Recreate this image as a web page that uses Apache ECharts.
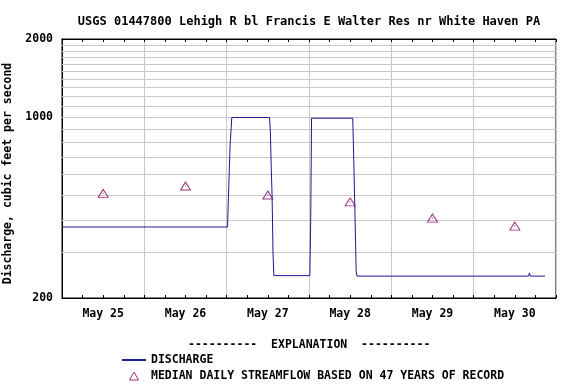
<!DOCTYPE html>
<html>
<head>
<meta charset="utf-8">
<script src="https://cdn.jsdelivr.net/npm/echarts@6/dist/echarts.min.js"></script>
<style>html,body{margin:0;padding:0;background:#fff}#c{width:576px;height:384px}</style>
</head>
<body>
<div id="c"></div>
<script>
// ---- data (hours after May 25 00:00) ----
const dayLabels = ['May 25', 'May 26', 'May 27', 'May 28', 'May 29', 'May 30'];
const dischargeHours = [0, 48.25, 48.5, 49.0, 49.5, 60.5, 60.75, 61.0, 61.25, 61.5, 61.75,
  72.25, 72.5, 72.75, 84.75, 85.0, 85.5, 85.75, 86.0, 136.0, 136.25, 136.5, 140.8];
const dischargeValues = [376, 376, 486, 779, 995, 995, 867, 635, 492, 301, 244,
  244, 400, 989, 989, 726, 366, 253, 243, 243, 250, 243, 243];
const medianHours = [12, 36, 60, 84, 108, 132];
const medianValues = [507, 541, 500, 470, 407, 379];
const yTickLabels = [200, 1000, 2000];
const yGridValues = [300, 400, 500, 600, 700, 800, 900, 1000, 1100, 1200, 1300, 1400, 1500, 1600, 1700, 1800, 1900];

const H = 3600 * 1000;
const t0 = Date.UTC(2020, 4, 25);
const toMs = h => t0 + h * H;
const FONT = 'DejaVu Sans Mono';
const LINE_COLOR = '#1a1a9c';
const MED_COLOR = '#800060';

const dischargeData = dischargeHours.map((h, i) => [toMs(h), dischargeValues[i]]);
const medianData = medianHours.map((h, i) => [toMs(h), medianValues[i]]);
const labelValues = medianHours.map(toMs);

const xCommon = {
  type: 'value', min: t0, max: toMs(144), interval: 24 * H,
  axisLine: { show: true, lineStyle: { color: '#000', width: 1 } },
  axisTick: { show: true, inside: true, length: 3, lineStyle: { color: '#000' } },
  minorTick: { show: true, splitNumber: 4, length: 3, lineStyle: { color: '#000' } }
};

const chart = echarts.init(document.getElementById('c'));
chart.setOption({
  animation: false,
  backgroundColor: '#fff',
  title: {
    text: 'USGS 01447800 Lehigh R bl Francis E Walter Res nr White Haven PA',
    left: 304, top: 11, textAlign: 'center',
    textStyle: { fontFamily: FONT, fontWeight: 'bold', fontSize: 12, color: '#000' }
  },
  grid: { left: 62, top: 39, width: 494, height: 259, show: true, borderColor: '#000', borderWidth: 1, containLabel: false, outerBoundsMode: 'none' },
  xAxis: [
    Object.assign({}, xCommon, {
      position: 'bottom',
      splitLine: { show: true, lineStyle: { color: '#c8c8c8', width: 1 } },
      axisLabel: {
        show: true, margin: 10, customValues: labelValues,
        fontFamily: FONT, fontWeight: 'bold', fontSize: 11.5, color: '#000',
        formatter: v => dayLabels[medianHours.indexOf(Math.round((v - t0) / H))] || ''
      }
    }),
    Object.assign({}, xCommon, {
      position: 'top',
      splitLine: { show: false },
      axisLabel: { show: false }
    })
  ],
  yAxis: {
    type: 'log', logBase: 10, min: 200, max: 2000,
    name: 'Discharge, cubic feet per second', nameLocation: 'middle', nameGap: 28,
    nameTextStyle: { fontFamily: FONT, fontWeight: 'bold', fontSize: 11.5, color: '#000', padding: [0, 10, 0, 0] },
    axisLine: { show: true, lineStyle: { color: '#000' } },
    axisTick: { show: false },
    splitLine: { show: false },
    axisLabel: {
      customValues: yTickLabels, margin: 9,
      fontFamily: FONT, fontWeight: 'bold', fontSize: 11.5, color: '#000',
      formatter: v => String(Math.round(v))
    }
  },
  legend: {
    orient: 'vertical', left: 121, top: 352, padding: 0, itemWidth: 24, itemHeight: 10, itemGap: 0,
    data: [
      { name: 'DISCHARGE', itemStyle: { opacity: 0 } },
      {
        name: 'MEDIAN DAILY STREAMFLOW BASED ON 47 YEARS OF RECORD',
        icon: 'path://M0,0M24,10M7.5,9L16.5,9L12,1Z',
        itemStyle: { color: 'rgba(255,255,255,0)', borderColor: MED_COLOR, borderWidth: 1 }
      }
    ],
    textStyle: { fontFamily: FONT, fontWeight: 'bold', fontSize: 11.5, color: '#000', lineHeight: 16 }
  },
  graphic: [{
    type: 'text', left: 310 - 122, top: 339,
    style: { text: '----------  EXPLANATION  ----------', fontFamily: FONT, fontWeight: 'bold', fontSize: 11.5, fill: '#000' }
  }],
  series: [
    {
      type: 'line', silent: true, z: 1, data: [],
      markLine: {
        z: 1, silent: true, symbol: 'none', label: { show: false },
        lineStyle: { color: '#c8c8c8', width: 1, type: 'solid' },
        data: yGridValues.map(v => ({ yAxis: v }))
      }
    },
    {
      name: 'DISCHARGE', type: 'line', z: 6, data: dischargeData,
      showSymbol: false, symbol: 'none',
      lineStyle: { color: LINE_COLOR, width: 1 }, itemStyle: { color: LINE_COLOR }
    },
    {
      name: 'MEDIAN DAILY STREAMFLOW BASED ON 47 YEARS OF RECORD', type: 'scatter', z: 7,
      data: medianData, symbol: 'triangle', symbolSize: [10, 8],
      itemStyle: { color: 'rgba(255,255,255,0)', borderColor: MED_COLOR, borderWidth: 1 }
    },
    {
      type: 'scatter', z: 8, data: medianData, symbol: 'rect', symbolSize: 1,
      itemStyle: { color: MED_COLOR }, silent: true
    }
  ]
});
</script>
</body>
</html>
